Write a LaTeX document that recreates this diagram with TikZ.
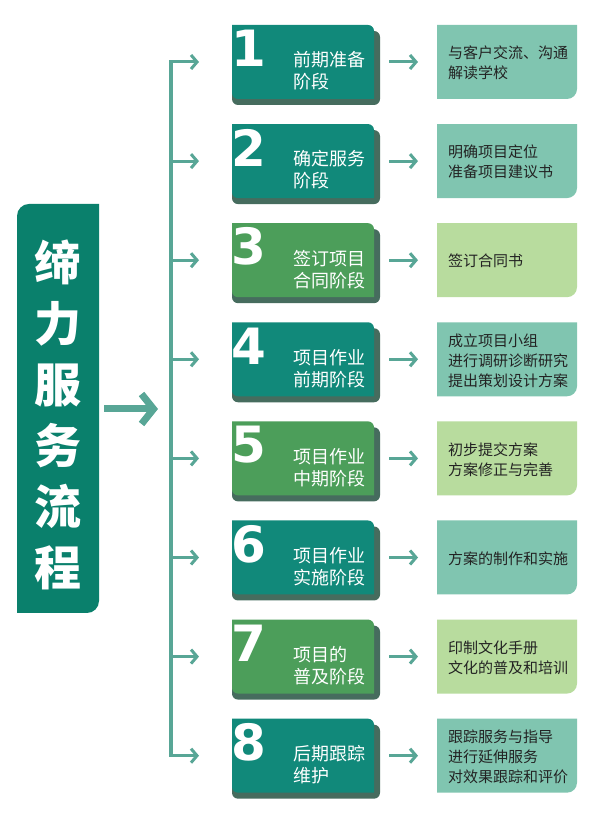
\documentclass[tikz,border=0pt]{standalone}
\usepackage{fontspec}
\usetikzlibrary{arrows.meta}
\newfontfamily\cjk{Noto Sans CJK SC}
\newfontfamily\digitfont{DejaVu Sans}
\definecolor{titlec}{RGB}{10,128,108}
\definecolor{tealc}{RGB}{17,137,122}
\definecolor{greenc}{RGB}{76,158,90}
\definecolor{shadowc}{RGB}{70,108,94}
\definecolor{lteal}{RGB}{128,197,176}
\definecolor{lgreen}{RGB}{184,220,158}
\definecolor{arrowc}{RGB}{88,166,150}
\definecolor{txtc}{RGB}{35,35,35}
\tikzset{
  shapebox/.style={rectangle, inner sep=0pt, outer sep=0pt},
  arr/.style={draw=arrowc, line width=3pt, -{Straight Barb[length=6pt,width=14pt]}},
  bigarr/.style={draw=arrowc, line width=7pt, -{Straight Barb[length=12pt,width=30pt]}},
  trunk/.style={draw=arrowc, line width=3.2pt, line cap=rect},
  digit/.style={text=white, font=\digitfont\bfseries\fontsize{50}{50}\selectfont, inner sep=0pt},
  stagetext/.style={text=white, font=\cjk\fontsize{18}{22}\selectfont, align=left, anchor=west, inner sep=0pt},
  resulttext/.style={text=txtc, font=\cjk\fontsize{15}{20}\selectfont, align=left, anchor=west, inner sep=0pt},
  titletext/.style={text=white, font=\cjk\bfseries\fontsize{47}{61}\selectfont, align=center, inner sep=0pt}
}
\begin{document}
\begin{tikzpicture}[x=1pt,y=1pt]
\useasboundingbox (0,0) rectangle (600,819);
\fill[white] (0,0) rectangle (600,819);
% title box
\node[shapebox, minimum width=82pt, minimum height=409pt] (title) at (58,410.5) {};
\fill[titlec] (title.south west) -- ([xshift=-12pt]title.south east) arc(270:360:12pt)
  -- (title.north east) -- ([xshift=12pt]title.north west) arc(90:180:12pt) -- cycle;
\node[titletext] (titlelabel) at (58,404) {缔\\力\\服\\务\\流\\程};
% trunk
\coordinate (t1) at (171,757);
\coordinate (t8) at (171,{757-99.1*7});
\coordinate (tm) at (171,410);
\draw[trunk] (t1) -- (t8);
\draw[bigarr] ([xshift=5pt]title.east |- tm) -- ([xshift=-13pt]tm);
\foreach \i/\col/\lcol/\stxt/\rtxt in {
  1/tealc/lteal/{前期准备\\阶段}/{与客户交流、沟通\\解读学校},
  2/tealc/lteal/{确定服务\\阶段}/{明确项目定位\\准备项目建议书},
  3/greenc/lgreen/{签订项目\\合同阶段}/{签订合同书},
  4/tealc/lteal/{项目作业\\前期阶段}/{成立项目小组\\进行调研诊断研究\\提出策划设计方案},
  5/greenc/lgreen/{项目作业\\中期阶段}/{初步提交方案\\方案修正与完善},
  6/tealc/lteal/{项目作业\\实施阶段}/{方案的制作和实施},
  7/greenc/lgreen/{项目的\\普及阶段}/{印制文化手册\\文化的普及和培训},
  8/tealc/lteal/{后期跟踪\\维护}/{跟踪服务与指导\\进行延伸服务\\对效果跟踪和评价}}{
  \pgfmathsetmacro\Y{757-99.1*(\i-1)}
  \coordinate (b\i) at (171,\Y);
  % stage box
  \node[shapebox, minimum width=142pt, minimum height=74pt] (s\i) at (303,\Y) {};
  \fill[shadowc, rounded corners=6pt] ([yshift=-6pt]s\i.south west) rectangle ([xshift=6pt,yshift=-6pt]s\i.north east);
  \fill[\col] ([yshift=6pt]s\i.south west) -- (s\i.north west) -- ([xshift=-6pt]s\i.north east)
     arc(90:0:6pt) -- (s\i.south east) -- ([xshift=6pt]s\i.south west) arc(270:180:6pt) -- cycle;
  \node[digit] (d\i) at (249,\Y+13.5) {\i};
  \node[stagetext] (st\i) at (293,\Y-9) {\stxt};
  % result box
  \node[shapebox, minimum width=140pt, minimum height=74pt] (r\i) at (507,\Y) {};
  \fill[\lcol] (r\i.north west) -- (r\i.north east) -- ([yshift=10pt]r\i.south east)
     arc(0:-90:10pt) -- (r\i.south west) -- cycle;
  \node[resulttext] (rt\i) at (448,\Y-1) {\rtxt};
  % connectors
  \draw[arr] (b\i) -- ([xshift=-33pt]s\i.west);
  \draw[arr] ([xshift=15pt]s\i.east) -- ([xshift=-19pt]r\i.west);
}
\end{tikzpicture}
\end{document}
